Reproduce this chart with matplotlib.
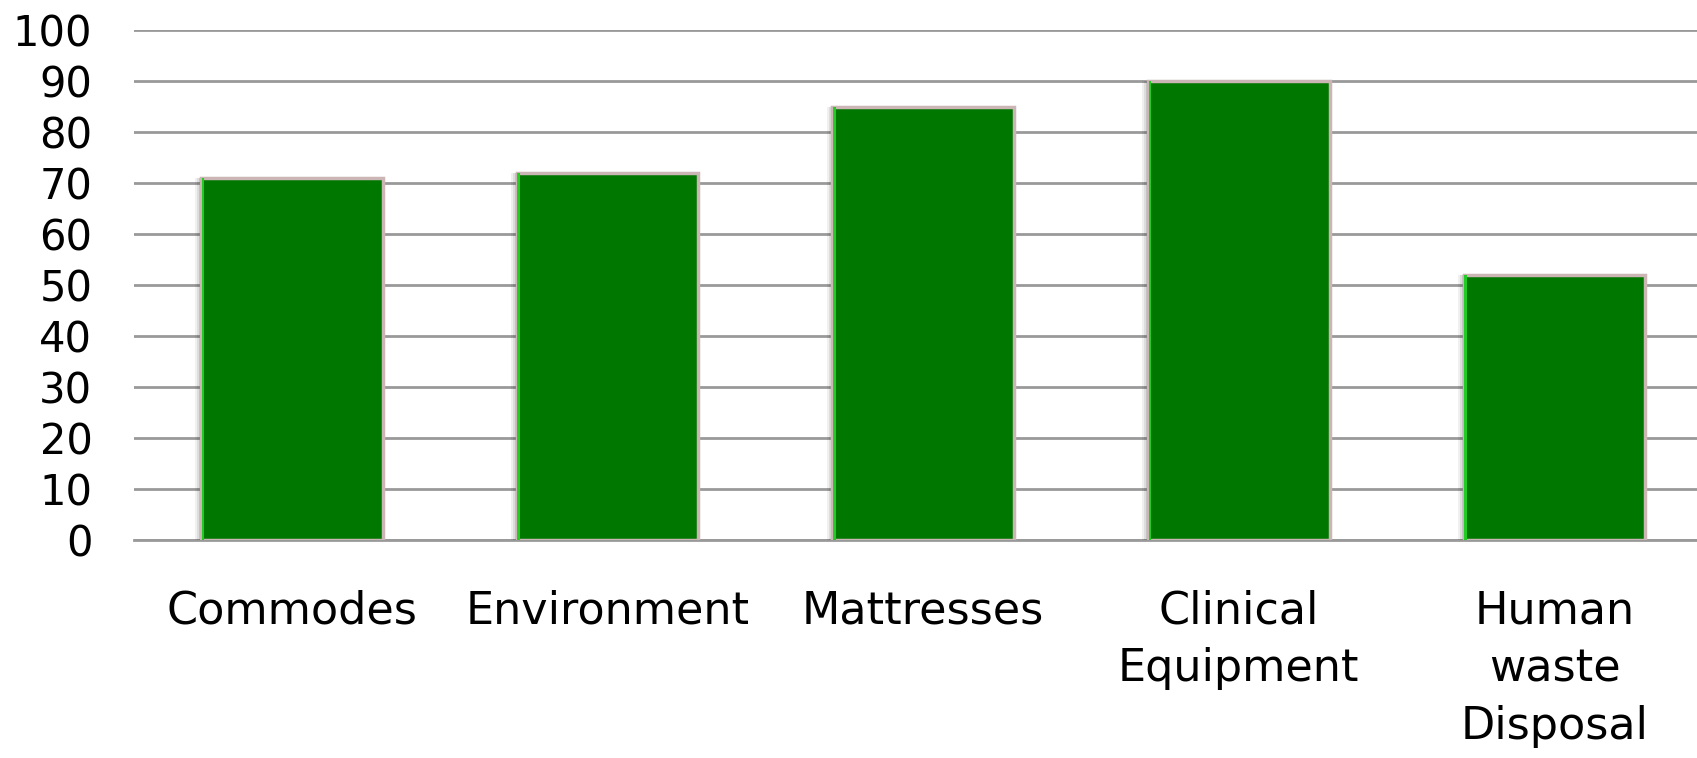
import matplotlib.pyplot as plt
import numpy as np

categories = ["Commodes", "Environment", "Mattresses", "Clinical\nEquipment", "Human\nwaste\nDisposal"]
values = [71, 72, 85, 90, 52]
yticks = [0, 10, 20, 30, 40, 50, 60, 70, 80, 90, 100]

plt.rcParams['font.family'] = ['DejaVu Sans']

fig = plt.figure(figsize=(16.97, 7.58), dpi=100)
ax = fig.add_axes([0.079, 0.2876, 0.93, 0.6728])

x = np.arange(len(categories))
width = 0.575

# soft shadow on the left side of each bar
for off, a in [(0.018, 0.06), (0.012, 0.08), (0.006, 0.10)]:
    ax.bar(x - off, values, width=width, color="black", alpha=a, linewidth=0, zorder=2)

ax.bar(x, values, width=width, color="#007800", edgecolor="#cbb5b5", linewidth=2.5, zorder=3)
# light green strip on the left edge of each bar
ax.bar(x - width / 2 + 0.006, values, width=0.008, color="#22cc22", linewidth=0, zorder=4)

ax.set_xlim(-0.5, len(categories) - 0.5)
ax.set_ylim(0, 100)
ax.set_yticks(yticks)
ax.set_xticks(x)
ax.set_xticklabels(categories, linespacing=1.42, fontsize=32)
ax.yaxis.grid(True, color="#999999", linewidth=2)
ax.axhline(0, color="#999999", linewidth=2, clip_on=False, zorder=1)
ax.set_axisbelow(True)
for s in ax.spines.values():
    s.set_visible(False)
ax.tick_params(axis="both", length=0, labelsize=30, colors="black")
ax.tick_params(axis="x", labelsize=32, pad=36)
ax.tick_params(axis="y", pad=30)

fig.savefig("out.png", dpi=100)
